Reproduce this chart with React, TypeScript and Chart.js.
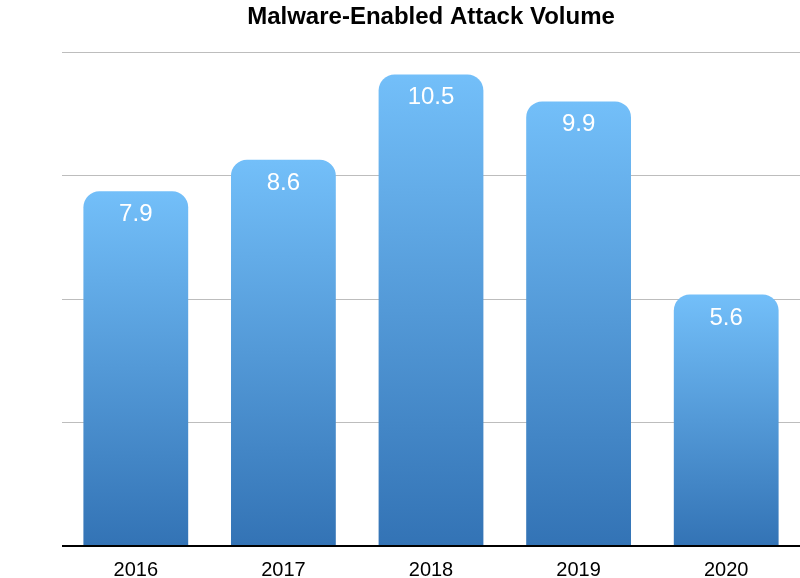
import React, { useEffect, useRef } from "react";
import { Chart, registerables } from "chart.js";

Chart.register(...registerables);

const TITLE = "Malware-Enabled Attack Volume";
const YEARS = ["2016", "2017", "2018", "2019", "2020"];
const VOLUMES = [7.9, 8.6, 10.5, 9.9, 5.6];
const Y_MAX = 11;
const Y_STEP = 2.75;

const TOP_COLOR = "#73BFF9";
const BOTTOM_COLOR = "#3373B5";
const FONT = "'Liberation Sans', Arial, Helvetica, sans-serif";

const valueLabels = {
  id: "valueLabels",
  afterDatasetsDraw(chart: any) {
    const ctx = chart.ctx;
    const meta = chart.getDatasetMeta(0);
    ctx.save();
    ctx.fillStyle = "#ffffff";
    ctx.font = `24px ${FONT}`;
    ctx.textAlign = "center";
    ctx.textBaseline = "alphabetic";
    meta.data.forEach((bar: any, i: number) => {
      ctx.fillText(String(VOLUMES[i]), bar.x, bar.y + 30);
    });
    ctx.restore();
  },
};

const axisLine = {
  id: "axisLine",
  afterDatasetsDraw(chart: any) {
    const { ctx, chartArea } = chart;
    const y = chart.scales.y.getPixelForValue(0);
    ctx.save();
    ctx.strokeStyle = "#000000";
    ctx.lineWidth = 2;
    ctx.beginPath();
    ctx.moveTo(chartArea.left, y);
    ctx.lineTo(chartArea.right, y);
    ctx.stroke();
    ctx.restore();
  },
};

export default function App() {
  const ref = useRef<HTMLCanvasElement>(null);
  useEffect(() => {
    if (!ref.current) return;
    const chart = new Chart(ref.current, {
      type: "bar",
      data: {
        labels: YEARS,
        datasets: [
          {
            data: VOLUMES,
            backgroundColor: (c: any) => {
              const ch = c.chart;
              const ys = ch.scales && ch.scales.y;
              if (!ys || !ch.chartArea || c.raw == null) return TOP_COLOR;
              const top = ys.getPixelForValue(c.raw);
              const bottom = ys.getPixelForValue(0);
              if (!isFinite(top) || !isFinite(bottom) || top === bottom) return TOP_COLOR;
              const g = ch.ctx.createLinearGradient(0, top, 0, bottom);
              g.addColorStop(0, TOP_COLOR);
              g.addColorStop(1, BOTTOM_COLOR);
              return g;
            },
            borderWidth: 0,
            borderRadius: { topLeft: 16, topRight: 16, bottomLeft: 0, bottomRight: 0 },
            borderSkipped: "bottom",
            categoryPercentage: 0.71,
            barPercentage: 1,
          },
        ],
      },
      options: {
        animation: false,
        responsive: false,
        maintainAspectRatio: false,
        layout: { padding: { left: 62, right: 0, top: 3, bottom: 0 } },
        plugins: {
          legend: { display: false },
          tooltip: { enabled: false },
          title: {
            display: true,
            text: TITLE,
            color: "#000000",
            font: { family: FONT, size: 24, weight: "bold" },
            padding: { top: 0, bottom: 20.2 },
          },
        },
        scales: {
          x: {
            grid: { display: false, drawTicks: false },
            border: { display: false },
            ticks: {
              color: "#000000",
              font: { family: FONT, size: 20 },
              padding: 12,
            },
            afterFit: (axis: any) => {
              axis.height = 32;
            },
          },
          y: {
            min: 0,
            max: Y_MAX,
            ticks: { display: false, stepSize: Y_STEP },
            grid: { color: "#BDBDBD", lineWidth: 1, drawTicks: false },
            border: { display: false },
          },
        },
      },
      plugins: [valueLabels, axisLine],
    } as any);
    return () => chart.destroy();
  }, []);
  return (
    <div style={{ position: "fixed", left: 0, top: 0, width: 800, height: 578, background: "#fff" }}>
      <canvas ref={ref} width={800} height={578} style={{ display: "block" }} />
    </div>
  );
}
